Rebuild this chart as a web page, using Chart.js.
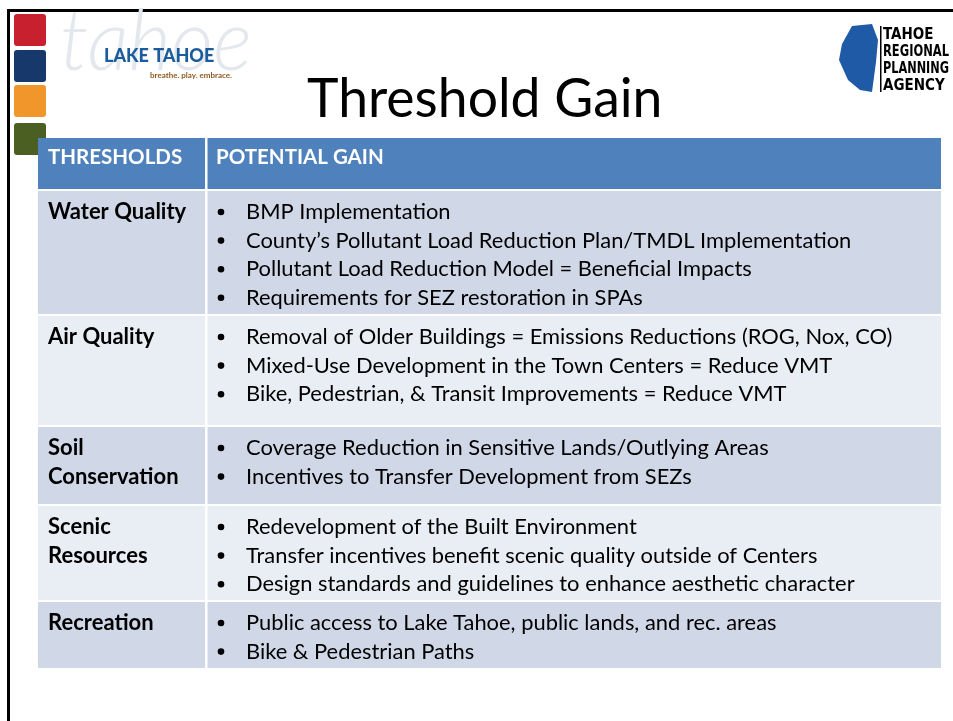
<!DOCTYPE html>
<html>
<head>
<meta charset="utf-8">
<script src="https://cdn.jsdelivr.net/npm/chart.js@4.4.0/dist/chart.umd.min.js"></script>
<style>
  body { margin: 0; background: #fff; }
  canvas { display: block; }
</style>
</head>
<body>
<canvas id="slide" width="953" height="721"></canvas>
<script>
// table data
const title = 'Threshold Gain';
const headers = ['THRESHOLDS', 'POTENTIAL GAIN'];
const thresholds = [
  ['Water Quality'],
  ['Air Quality'],
  ['Soil', 'Conservation'],
  ['Scenic', 'Resources'],
  ['Recreation']
];
const gains = [
  ['BMP Implementation',
   'County\u2019s Pollutant Load Reduction Plan/TMDL Implementation',
   'Pollutant Load Reduction Model = Beneficial Impacts',
   'Requirements for SEZ restoration in SPAs'],
  ['Removal of Older Buildings = Emissions Reductions (ROG, Nox, CO)',
   'Mixed-Use Development in the Town Centers = Reduce VMT',
   'Bike, Pedestrian, & Transit Improvements = Reduce VMT'],
  ['Coverage Reduction in Sensitive Lands/Outlying Areas',
   'Incentives to Transfer Development from SEZs'],
  ['Redevelopment of the Built Environment',
   'Transfer incentives benefit scenic quality outside of Centers',
   'Design standards and guidelines to enhance aesthetic character'],
  ['Public access to Lake Tahoe, public lands, and rec. areas',
   'Bike & Pedestrian Paths']
];

// layout (slide pixel units)
const tableLeft = 38, tableRight = 941, colSplit = 206;
const headerTop = 138, headerBottom = 189;
const rowTops = [191, 316, 427, 506, 602];
const rowBottoms = [314, 425, 504, 600, 668];
const lineStep = 28.6;
const FONT = 'Lato, "Open Sans", sans-serif';

const slidePlugin = {
  id: 'slide',
  beforeDraw(chart) {
    const { ctx, scales: { x, y } } = chart;
    const px = v => x.getPixelForValue(v);
    const py = v => y.getPixelForValue(v);
    ctx.save();
    ctx.fillStyle = '#fff';
    ctx.fillRect(0, 0, chart.width, chart.height);

    // frame
    ctx.fillStyle = '#000';
    ctx.fillRect(px(7), py(9), px(953) - px(7), 3);
    ctx.fillRect(px(7), py(9), 3, py(721) - py(9));

    // colour tiles
    const tiles = [['#c8202f', 14], ['#16386b', 50], ['#f0962a', 85], ['#4b5f22', 123]];
    tiles.forEach(([c, t]) => {
      ctx.fillStyle = c;
      ctx.beginPath();
      ctx.roundRect(px(14), py(t), px(46) - px(14), py(t + 32) - py(t), 3);
      ctx.fill();
    });

    // lake tahoe logo
    ctx.textBaseline = 'alphabetic';
    ctx.fillStyle = '#e3e7ee';
    ctx.font = 'italic 300 84px ' + FONT;
    ctx.fillText('tahoe', px(60), py(70), 192);
    ctx.fillStyle = '#1c5c9c';
    ctx.font = '900 18px ' + FONT;
    ctx.fillText('LAKE TAHOE', px(104), py(62), 116);
    ctx.fillStyle = '#8a5a20';
    ctx.font = 'bold 8px ' + FONT;
    ctx.fillText('breathe. play. embrace.', px(150), py(78), 108);

    // trpa logo
    ctx.fillStyle = '#1f5aa6';
    ctx.beginPath();
    ctx.moveTo(px(852), py(26));
    ctx.lineTo(px(872), py(24));
    ctx.lineTo(px(878), py(40));
    ctx.lineTo(px(876), py(62));
    ctx.lineTo(px(872), py(92));
    ctx.lineTo(px(860), py(90));
    ctx.lineTo(px(848), py(80));
    ctx.lineTo(px(839), py(60));
    ctx.lineTo(px(842), py(44));
    ctx.closePath();
    ctx.fill();
    ctx.fillStyle = '#000';
    ctx.fillRect(px(880), py(26), 1.5, py(92) - py(26));
    ctx.font = 'bold 15px "DejaVu Sans Condensed", "Liberation Sans Narrow", sans-serif';
    ['TAHOE', 'REGIONAL', 'PLANNING', 'AGENCY'].forEach((s, i) => {
      ctx.fillText(s, px(883), py(39 + i * 17), 66);
    });

    // title
    ctx.fillStyle = '#000';
    ctx.font = '53.5px ' + FONT;
    ctx.fillText(title, px(307), py(117));

    // header
    ctx.fillStyle = '#4f81bd';
    ctx.fillRect(px(tableLeft), py(headerTop), px(tableRight) - px(tableLeft), py(headerBottom) - py(headerTop));
    ctx.fillStyle = '#fff';
    ctx.fillRect(px(colSplit - 1), py(headerTop), 2.5, py(headerBottom) - py(headerTop));
    ctx.font = 'bold 20.5px ' + FONT;
    ctx.textBaseline = 'middle';
    ctx.fillText(headers[0], px(48), py(157));
    ctx.fillText(headers[1], px(216), py(157));

    // body rows
    thresholds.forEach((lab, i) => {
      ctx.fillStyle = i % 2 === 0 ? '#d0d8e8' : '#e9edf4';
      ctx.fillRect(px(tableLeft), py(rowTops[i]), px(tableRight) - px(tableLeft), py(rowBottoms[i]) - py(rowTops[i]));
      ctx.fillStyle = '#fff';
      ctx.fillRect(px(colSplit - 1), py(rowTops[i]), 2.5, py(rowBottoms[i]) - py(rowTops[i]));
      const first = rowTops[i] + 21;
      ctx.fillStyle = '#000';
      ctx.font = 'bold 22px ' + FONT;
      lab.forEach((s, k) => ctx.fillText(s, px(48), py(first + k * lineStep)));
      ctx.font = '21.9px ' + FONT;
      gains[i].forEach((s, k) => {
        const yy = py(first + k * lineStep);
        ctx.beginPath();
        ctx.arc(px(221), yy, 3.3, 0, Math.PI * 2);
        ctx.fill();
        ctx.fillText(s, px(246), yy);
      });
    });
    ctx.restore();
  }
};

new Chart(document.getElementById('slide'), {
  type: 'scatter',
  data: { datasets: [{ data: [] }] },
  options: {
    responsive: false,
    animation: false,
    layout: { padding: 0 },
    plugins: { legend: { display: false }, tooltip: { enabled: false } },
    scales: {
      x: { type: 'linear', min: 0, max: 953, display: false },
      y: { type: 'linear', min: 0, max: 721, reverse: true, display: false }
    }
  },
  plugins: [slidePlugin]
});
</script>
</body>
</html>
